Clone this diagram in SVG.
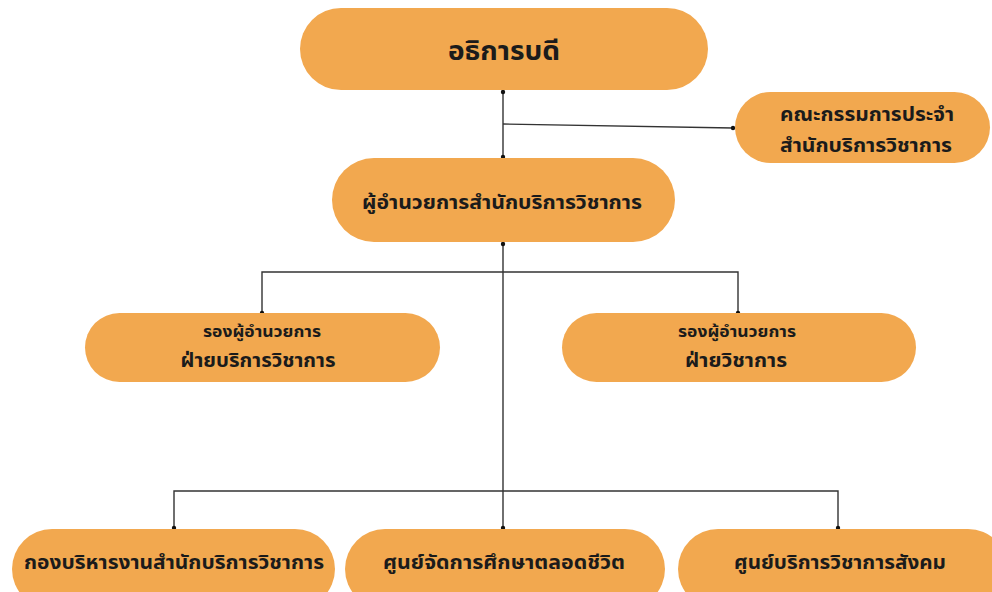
<svg xmlns="http://www.w3.org/2000/svg" width="992" height="592" viewBox="0 0 992 592">
<style>
.box{fill:#F2A84F;}
.t{font-family:"Noto Sans Thai","Noto Sans","DejaVu Sans",sans-serif;font-weight:bold;fill:#1b1b1b;text-anchor:middle;}
.ln{stroke:#333;stroke-width:1.4;fill:none;}
.dot{fill:#111;}
</style>
<rect width="992" height="592" fill="#ffffff"/>
<g id="connectors">
<path class="ln" d="M503,92 V157"/>
<path class="ln" d="M503,124 L733,128"/>
<path class="ln" d="M503,244 V528"/>
<path class="ln" d="M262,313 V272 H738 V313"/>
<path class="ln" d="M174,528 V491 H838 V528"/>
<circle class="dot" cx="503" cy="92" r="2.2"/>
<circle class="dot" cx="503" cy="157" r="2.2"/>
<circle class="dot" cx="733" cy="128" r="2.2"/>
<circle class="dot" cx="503" cy="244" r="2.2"/>
<circle class="dot" cx="262" cy="313" r="2.2"/>
<circle class="dot" cx="738" cy="313" r="2.2"/>
<circle class="dot" cx="174" cy="528" r="2.2"/>
<circle class="dot" cx="503" cy="528" r="2.2"/>
<circle class="dot" cx="838" cy="528" r="2.2"/>
</g>
<g id="president">
<rect class="box" x="300" y="8" width="408" height="82" rx="41"/>
<text class="t" x="504" y="60" font-size="27" textLength="112" lengthAdjust="spacingAndGlyphs">อธิการบดี</text>
</g>
<g id="committee">
<rect class="box" x="735" y="92" width="255" height="71" rx="35.5"/>
<text class="t" x="867" y="121" font-size="18.5" textLength="174" lengthAdjust="spacingAndGlyphs">คณะกรรมการประจำ</text>
<text class="t" x="866" y="152" font-size="18.5" textLength="172" lengthAdjust="spacingAndGlyphs">สำนักบริการวิชาการ</text>
</g>
<g id="director">
<rect class="box" x="332" y="158" width="343" height="84" rx="42"/>
<text class="t" x="502" y="209" font-size="20" textLength="280" lengthAdjust="spacingAndGlyphs">ผู้อำนวยการสำนักบริการวิชาการ</text>
</g>
<g id="deputy-service">
<rect class="box" x="85" y="313" width="355" height="69" rx="34.5"/>
<text class="t" x="262" y="337" font-size="16" textLength="118" lengthAdjust="spacingAndGlyphs">รองผู้อำนวยการ</text>
<text class="t" x="258" y="367" font-size="19" textLength="155" lengthAdjust="spacingAndGlyphs">ฝ่ายบริการวิชาการ</text>
</g>
<g id="deputy-academic">
<rect class="box" x="562" y="313" width="354" height="69" rx="34.5"/>
<text class="t" x="737" y="337" font-size="16" textLength="118" lengthAdjust="spacingAndGlyphs">รองผู้อำนวยการ</text>
<text class="t" x="736" y="367" font-size="19" textLength="102" lengthAdjust="spacingAndGlyphs">ฝ่ายวิชาการ</text>
</g>
<g id="admin-division">
<rect class="box" x="12" y="529" width="323" height="80" rx="40"/>
<text class="t" x="174" y="569" font-size="18.5" textLength="300" lengthAdjust="spacingAndGlyphs">กองบริหารงานสำนักบริการวิชาการ</text>
</g>
<g id="lifelong-center">
<rect class="box" x="345" y="529" width="320" height="80" rx="40"/>
<text class="t" x="504" y="569" font-size="18.5" textLength="242" lengthAdjust="spacingAndGlyphs">ศูนย์จัดการศึกษาตลอดชีวิต</text>
</g>
<g id="social-service-center">
<rect class="box" x="678" y="529" width="330" height="80" rx="40"/>
<text class="t" x="840" y="569" font-size="18.5" textLength="212" lengthAdjust="spacingAndGlyphs">ศูนย์บริการวิชาการสังคม</text>
</g>
</svg>
